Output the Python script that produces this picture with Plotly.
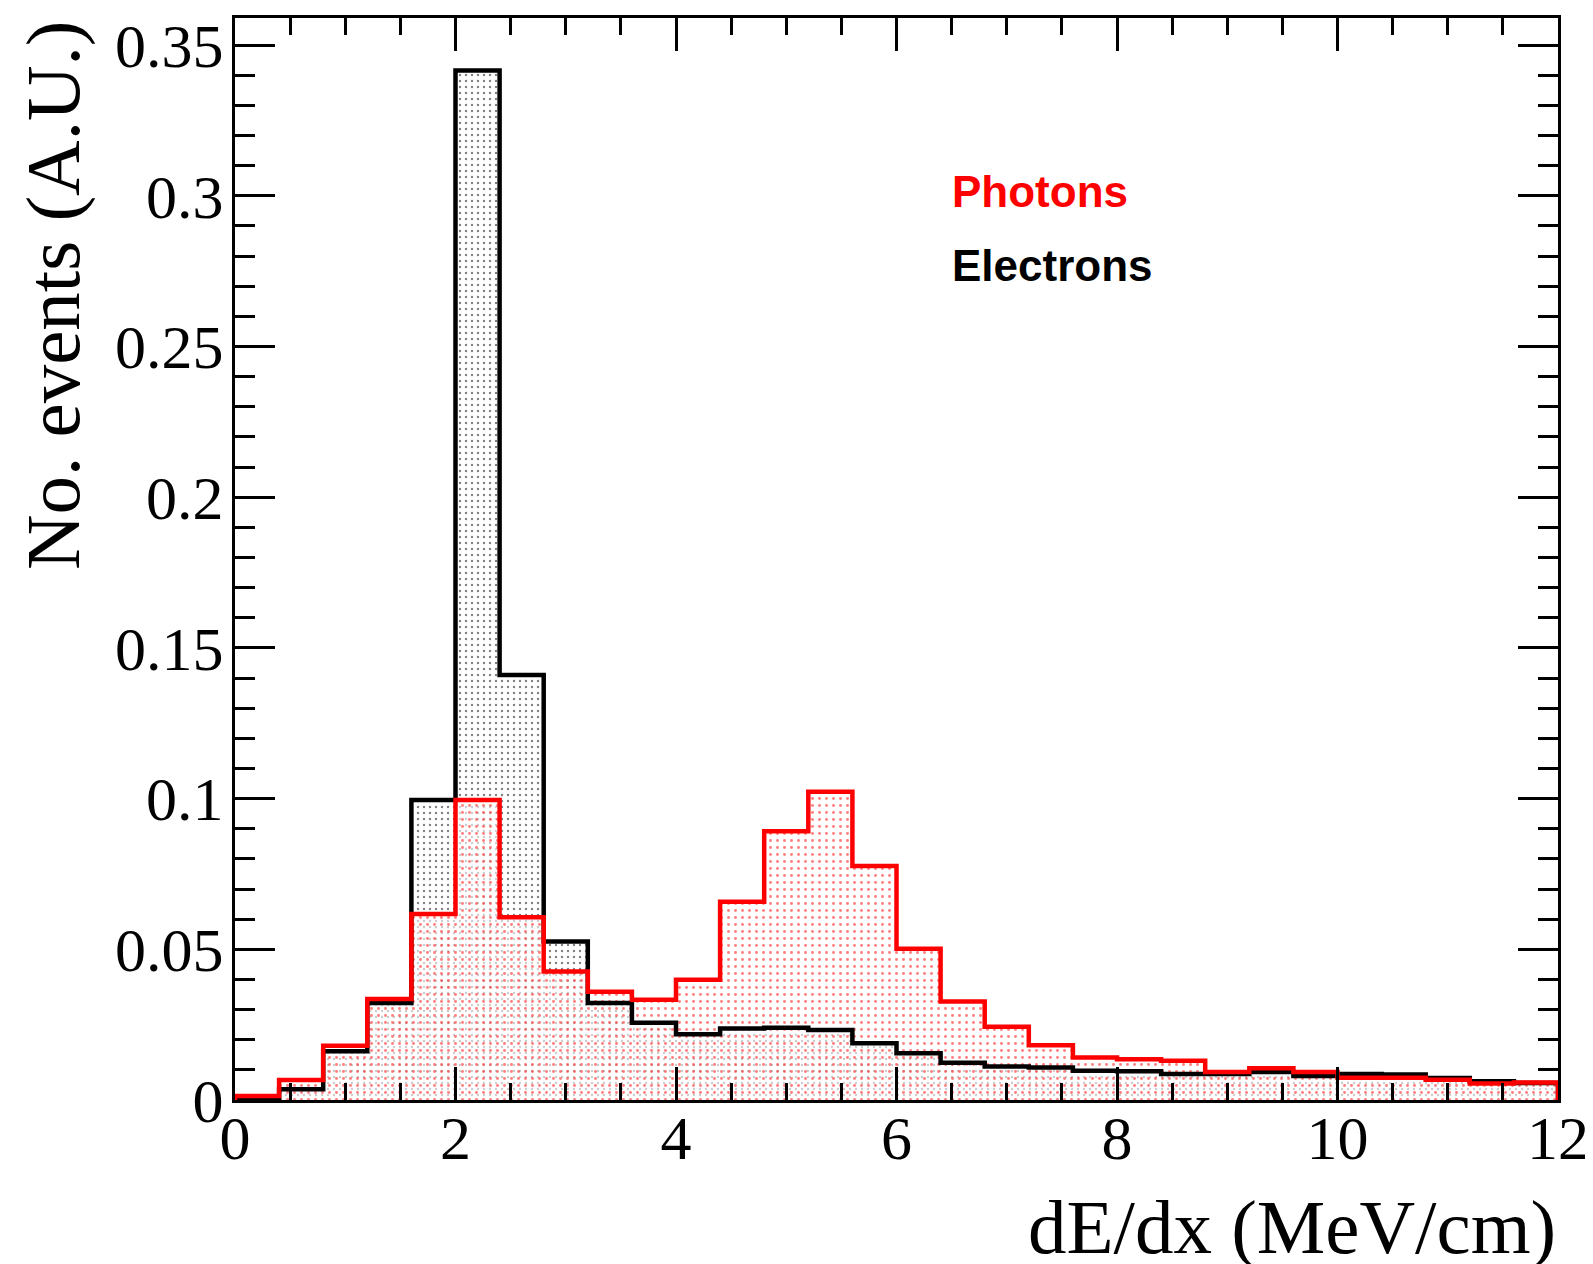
import plotly.graph_objects as go

# ---- data (bins of width 0.4 from 0 to 12) ----
bin_edges = [round(0.4 * i, 1) for i in range(31)]
photons = [0.0013, 0.0066, 0.0180, 0.0335, 0.0617, 0.0995, 0.0606, 0.0426, 0.0359, 0.0333,
           0.0399, 0.0658, 0.0892, 0.1023, 0.0776, 0.0502, 0.0327, 0.0243, 0.0182, 0.0141,
           0.0135, 0.0130, 0.0093, 0.0105, 0.0093, 0.0074, 0.0074, 0.0067, 0.0055, 0.0058]
electrons = [0.0, 0.0036, 0.0162, 0.0322, 0.0995, 0.3416, 0.1410, 0.0526, 0.0322, 0.0256,
             0.0218, 0.0237, 0.0240, 0.0232, 0.0188, 0.0155, 0.0124, 0.0111, 0.0108, 0.0097,
             0.0095, 0.0086, 0.0086, 0.0093, 0.0080, 0.0086, 0.0085, 0.0073, 0.0062, 0.0056]
x_ticks = [0, 2, 4, 6, 8, 10, 12]
y_ticks = [0, 0.05, 0.1, 0.15, 0.2, 0.25, 0.3, 0.35]
y_tick_text = ["0", "0.05", "0.1", "0.15", "0.2", "0.25", "0.3", "0.35"]

centers = [(bin_edges[i] + bin_edges[i + 1]) / 2 for i in range(len(bin_edges) - 1)]
widths = [bin_edges[i + 1] - bin_edges[i] for i in range(len(bin_edges) - 1)]


def step(vals):
    xs = [bin_edges[0]] + bin_edges + [bin_edges[-1]]
    ys = [0] + list(vals) + [vals[-1], 0]
    return xs, ys


fig = go.Figure()

fig.add_trace(go.Bar(
    x=centers, y=electrons, width=widths,
    marker=dict(color="rgba(0,0,0,0)", line=dict(width=0),
                pattern=dict(shape=".", fgcolor="black", bgcolor="rgba(0,0,0,0)",
                             size=6, solidity=0.12)),
    showlegend=False, hoverinfo="skip"))
fig.add_trace(go.Bar(
    x=centers, y=photons, width=widths,
    marker=dict(color="rgba(0,0,0,0)", line=dict(width=0),
                pattern=dict(shape=".", fgcolor="red", bgcolor="rgba(255,255,255,0.6)",
                             size=7, solidity=0.14)),
    showlegend=False, hoverinfo="skip"))

ex, ey = step(electrons)
fig.add_trace(go.Scatter(x=ex, y=ey, mode="lines", line=dict(color="black", width=4.5, shape="hv"),
                         showlegend=False, hoverinfo="skip"))
px_, py_ = step(photons)
fig.add_trace(go.Scatter(x=px_, y=py_, mode="lines", line=dict(color="red", width=4.5, shape="hv"),
                         showlegend=False, hoverinfo="skip"))

serif = "Liberation Serif, Times New Roman, serif"

# page body has an 8px default margin, so the figure is sized/offset to compensate
fig.update_layout(
    width=1585, height=1256,
    margin=dict(l=227, r=29, t=4, b=164),
    paper_bgcolor="white", plot_bgcolor="white",
    barmode="overlay", bargap=0,
    font=dict(family=serif, size=62, color="black"),
    xaxis=dict(range=[0, 12], tickvals=x_ticks, ticktext=[str(v) for v in x_ticks],
               ticks="inside", ticklen=33, tickwidth=2.5, tickcolor="black",
               minor=dict(dtick=0.5, tick0=0, ticks="inside", ticklen=17, tickwidth=2.5, tickcolor="black"),
               showline=True, linewidth=3, linecolor="black", mirror="allticks",
               showgrid=False, zeroline=False, ticklabelstandoff=-18, ticklabeloverflow="allow",
               tickfont=dict(family=serif, size=62, color="black")),
    yaxis=dict(range=[0, 0.359], tickvals=y_ticks, ticktext=y_tick_text,
               ticks="inside", ticklen=40, tickwidth=2.5, tickcolor="black",
               minor=dict(dtick=0.01, tick0=0, ticks="inside", ticklen=20, tickwidth=2.5, tickcolor="black"),
               showline=True, linewidth=3, linecolor="black", mirror="allticks",
               showgrid=False, zeroline=False, ticklabelstandoff=-4, ticklabeloverflow="allow",
               tickfont=dict(family=serif, size=62, color="black")),
    annotations=[
        dict(text="No. events (A.U.)", xref="paper", yref="paper", x=-0.1375, y=1.0,
             xanchor="center", yanchor="top", textangle=-90, showarrow=False,
             font=dict(family=serif, size=77, color="black")),
        dict(text="dE/dx (MeV/cm)", xref="paper", yref="paper", x=1.0, y=-0.1175,
             xanchor="right", yanchor="middle", showarrow=False,
             font=dict(family=serif, size=77, color="black")),
        dict(text="<b>Photons</b>", xref="paper", yref="paper", x=0.5407, y=0.840,
             xanchor="left", yanchor="middle", showarrow=False,
             font=dict(family="Liberation Sans, Arial, sans-serif", size=44, color="red")),
        dict(text="<b>Electrons</b>", xref="paper", yref="paper", x=0.5407, y=0.7713,
             xanchor="left", yanchor="middle", showarrow=False,
             font=dict(family="Liberation Sans, Arial, sans-serif", size=44, color="black")),
    ],
)

fig.write_html("out.html")
